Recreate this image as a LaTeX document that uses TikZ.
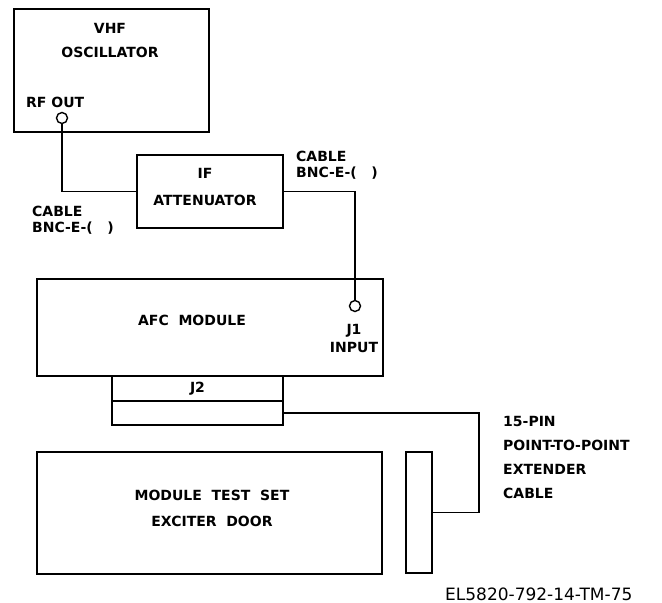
\documentclass[tikz,border=0pt]{standalone}
\usepackage{fontspec}
\setmainfont{DejaVu Sans}
\usepackage{tikz}
\usetikzlibrary{positioning,calc}
\tikzset{
  unitbox/.style={rectangle,draw,line width=1.7pt,inner sep=0pt},
  port/.style={circle,draw,line width=1.4pt,fill=white,minimum size=11pt,inner sep=0pt},
  lbl/.style={font=\bfseries\fontsize{14}{#1}\selectfont,align=center,inner sep=0pt},
  lbl/.default=16,
  cable/.style={line width=1.7pt},
}

\begin{document}
\begin{tikzpicture}[x=1pt,y=-1pt]
\useasboundingbox (0,0) rectangle (662,603);
\node[unitbox,minimum width=195pt,minimum height=123pt] (osc) at (111.5,70.5) {};
\node[lbl=24] (osctxt) at (110,40) {VHF\\OSCILLATOR};
\node[lbl,anchor=west] (rfouttxt) at (26,102) {RF\ OUT};
\node[port] (rfout) at (62,118) {};

\node[unitbox,minimum width=146pt,minimum height=73pt] (atten) at (210,191.5) {};
\node[lbl=27] (attentxt) at (205,187) {IF\\ATTENUATOR};
\node[lbl,align=left,anchor=west] (cablea) at (32,220) {CABLE\\BNC-E-(\ \ \ )};
\node[lbl,align=left,anchor=west] (cableb) at (296,165) {CABLE\\BNC-E-(\ \ \ )};

\node[unitbox,minimum width=346pt,minimum height=97pt] (afc) at (210,327.5) {};
\node[lbl] (afctxt) at (192,320) {AFC\ \ MODULE};
\node[port] (j1) at (355,306) {};
\node[lbl=18] (j1txt) at (354,338) {J1\\INPUT};

\node[unitbox,lbl,minimum width=171pt,minimum height=25pt] (j2) at (197.5,388.5) {J2};
\node[unitbox,minimum width=171pt,minimum height=24pt] (plug) at (197.5,413) {};

\node[unitbox,minimum width=345pt,minimum height=122pt] (testset) at (209.5,513) {};
\node[lbl=26] (testtxt) at (212,508) {MODULE\ \ TEST\ \ SET\\EXCITER\ \ DOOR};
\node[unitbox,minimum width=26pt,minimum height=121pt] (ext) at (419,512.5) {};
\node[lbl=23.7,align=left,anchor=west] (exttxt) at (503,457.5) {15-PIN\\POINT-TO-POINT\\EXTENDER\\CABLE};
\node[font=\fontsize{17}{19}\selectfont,anchor=west,inner sep=0pt] (figid) at (445,594) {EL5820-792-14-TM-75};

\coordinate (extcorner) at (479,413);
\draw[cable] (rfout) |- (atten.west);
\draw[cable] (atten.east) -| (j1);
\draw[cable] (plug.east) -- (extcorner) |- (ext.east);
\end{tikzpicture}
\end{document}
